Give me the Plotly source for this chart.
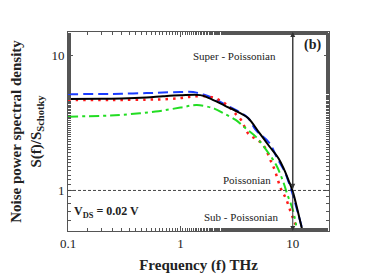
import plotly.graph_objects as go
import math

# Data
f_black = [0.1, 0.2, 0.3, 0.5, 0.7, 1.0, 1.5, 1.8, 2.5, 3.3, 4.0, 5.0, 6.2, 7.5, 8.4, 9.2, 10.0, 11.0, 12.2]
s_black = [4.78, 4.8, 4.82, 4.9, 5.0, 5.08, 5.1, 4.85, 4.25, 3.8, 3.45, 2.7, 2.12, 1.72, 1.42, 1.18, 0.98, 0.72, 0.5]

f_blue = [0.1, 0.2, 0.3, 0.5, 0.7, 1.0, 1.3, 1.6, 2.0, 2.5, 3.3, 4.0, 4.7, 6.2, 7.3, 8.4, 9.2, 10.0, 11.0, 12.3]
s_blue = [5.18, 5.2, 5.22, 5.28, 5.33, 5.38, 5.38, 5.15, 4.8, 4.35, 3.85, 3.45, 2.8, 2.25, 1.72, 1.4, 1.15, 0.93, 0.7, 0.5]

f_red = [0.1, 0.2, 0.3, 0.5, 0.7, 1.0, 1.33, 1.8, 2.2, 2.6, 3.0, 3.5, 4.0, 5.4, 6.4, 6.9, 7.8, 8.7, 9.6, 10.3, 11.3]
s_red = [4.7, 4.7, 4.7, 4.72, 4.75, 4.85, 5.0, 4.97, 4.7, 4.3, 3.8, 3.3, 2.65, 2.2, 1.64, 1.42, 1.04, 0.87, 0.69, 0.59, 0.5]

f_green = [0.1, 0.2, 0.3, 0.6, 1.0, 1.4, 2.0, 2.4, 3.1, 3.8, 4.7, 5.8, 7.1, 8.1, 9.0, 10.0, 10.7]
s_green = [3.53, 3.58, 3.64, 3.85, 4.12, 4.3, 4.05, 3.75, 3.34, 2.9, 2.5, 2.0, 1.55, 1.2, 0.92, 0.72, 0.55]

x_ticks = [0.1, 1, 10]
x_labels = ["0.1", "1", "10"]
y_ticks = [1, 10]
y_labels = ["1", "10"]

X_RANGE = [0.1, 21.0]
Y_RANGE = [0.5, 15.0]

FONT = "Liberation Serif, Times New Roman, serif"

fig = go.Figure()
fig.add_trace(go.Scatter(x=f_blue, y=s_blue, mode="lines", line=dict(color="#1a3cff", width=2, dash="10px,5px", shape="spline")))
fig.add_trace(go.Scatter(x=f_red, y=s_red, mode="lines", line=dict(color="#ff1a1a", width=2.5, dash="2.5px,5px", shape="spline")))
fig.add_trace(go.Scatter(x=f_green, y=s_green, mode="lines", line=dict(color="#22dd22", width=2, dash="10px,4px,3px,4px", shape="spline")))
fig.add_trace(go.Scatter(x=f_black, y=s_black, mode="lines", line=dict(color="black", width=2, shape="spline")))

# Poissonian reference line
fig.add_shape(type="line", xref="paper", x0=0, x1=1, yref="y", y0=1, y1=1,
              line=dict(color="#444", width=1, dash="3px,2px"))

ylo, yhi = math.log10(Y_RANGE[0]), math.log10(Y_RANGE[1])
arrow = dict(xref="x", yref="y", axref="x", ayref="y", text="", showarrow=True,
             arrowhead=2, arrowsize=1, arrowwidth=1, arrowcolor="#333")
fig.add_annotation(x=1, y=yhi, ax=1, ay=0, **arrow)
fig.add_annotation(x=1, y=0.012, ax=1, ay=yhi, **arrow)
fig.add_annotation(x=1, y=ylo, ax=1, ay=0, **arrow)

txt = dict(showarrow=False, font=dict(family=FONT, size=11, color="#222"))
fig.add_annotation(x=0.48, y=1.0, text="Super - Poissonian", **txt)
fig.add_annotation(x=0.596, y=0.079, text="Poissonian", **txt)
fig.add_annotation(x=0.542, y=-0.195, text="Sub - Poissonian", **txt)
fig.add_annotation(x=1.173, y=1.079, text="<b>(b)</b>",
                   showarrow=False, font=dict(family=FONT, size=14, color="#222"))
fig.add_annotation(x=-0.964, y=-0.16, xanchor="left",
                   text="<b>V<sub>DS</sub> = 0.02 V</b>",
                   showarrow=False, font=dict(family=FONT, size=12, color="#222"))

axis_common = dict(
    type="log", showgrid=False, zeroline=False, showline=True, linecolor="#555", linewidth=1,
    mirror="ticks", ticks="inside", ticklen=5, tickcolor="#555", automargin=False,
    tickfont=dict(family=FONT, size=13, color="#222"),
    minor=dict(ticks="inside", ticklen=3, tickcolor="#555", showgrid=False),
)

fig.update_xaxes(range=[math.log10(X_RANGE[0]), math.log10(X_RANGE[1])],
                 tickvals=x_ticks, ticktext=x_labels,
                 title=dict(text="<b>Frequency (f) THz</b>", font=dict(family=FONT, size=15, color="#222"), standoff=9),
                 **axis_common)
fig.update_yaxes(range=[ylo, yhi], tickvals=y_ticks, ticktext=y_labels,
                 title=dict(text="<b>Noise power spectral density<br>S(f)/S<sub>Schotky</sub></b>",
                            font=dict(family=FONT, size=15, color="#222"), standoff=8),
                 **axis_common)

# The page body adds an 8px offset; size the figure so the plot box lands where the reference has it
fig.update_layout(width=374, height=270, margin=dict(l=60, r=53, t=24, b=47),
                  showlegend=False, plot_bgcolor="white", paper_bgcolor="white")

fig.write_html("out.html")
